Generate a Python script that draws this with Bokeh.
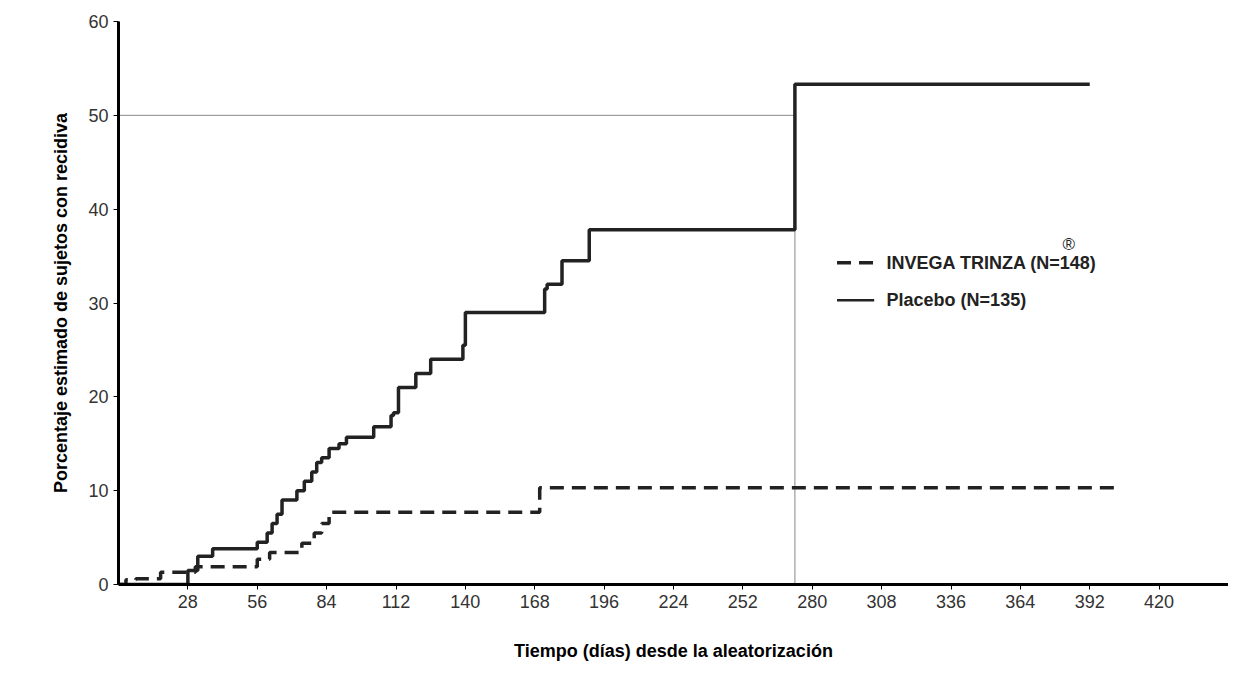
from bokeh.embed import file_html
from bokeh.resources import INLINE
from bokeh.models import FixedTicker, Range1d, Label
from bokeh.plotting import figure

# Kaplan-Meier step data (day, percent)
placebo_days = [0, 27, 28, 32, 38, 56, 60, 62, 64, 66, 68, 72, 75, 78, 80, 82, 85,
                89, 92, 103, 110, 111, 113, 120, 126, 139, 140, 172, 173, 179, 190, 273, 392]
placebo_pct = [0, 0, 1.5, 3.0, 3.8, 4.5, 5.5, 6.5, 7.5, 9.0, 9.0, 10.0, 11.0, 12.0, 13.0, 13.5, 14.5,
               15.0, 15.7, 16.8, 18.0, 18.3, 21.0, 22.5, 24.0, 25.5, 29.0, 31.5, 32.0, 34.5, 37.8, 53.3, 53.3]
invega_days = [0, 3, 7, 17, 27, 31, 56, 61, 74, 79, 82, 85, 87, 170, 402]
invega_pct = [0, 0.5, 0.6, 1.3, 1.3, 1.9, 2.7, 3.4, 4.4, 5.5, 6.5, 7.7, 7.7, 10.3, 10.3]

x_ticks = [28, 56, 84, 112, 140, 168, 196, 224, 252, 280, 308, 336, 364, 392, 420]
y_ticks = [0, 10, 20, 30, 40, 50, 60]
median_day = 273

FONT = "Liberation Sans"

p = figure(width=1228, height=663, output_backend="svg", toolbar_location=None, tools="",
           x_range=Range1d(0, 448), y_range=Range1d(0, 60),
           x_axis_label="Tiempo (días) desde la aleatorización",
           y_axis_label="Porcentaje estimado de sujetos con recidiva",
           min_border_left=118, min_border_right=0, min_border_top=21, min_border_bottom=79)
p.outline_line_color = None
p.grid.visible = False

for ax in (p.xaxis, p.yaxis):
    ax.axis_line_width = 3
    ax.axis_line_color = "black"
    ax.major_tick_line_color = "black"
    ax.minor_tick_line_color = None
    ax.major_tick_in = 0
    ax.major_tick_out = 5
    ax.major_label_text_font = FONT
    ax.major_label_text_font_size = "18px"
    ax.major_label_text_color = "#333333"
    ax.axis_label_text_font = FONT
    ax.axis_label_text_font_style = "bold"
    ax.axis_label_text_font_size = "18px"
    ax.axis_label_text_color = "black"
p.xaxis.ticker = FixedTicker(ticks=x_ticks)
p.yaxis.ticker = FixedTicker(ticks=y_ticks)
p.xaxis.axis_label_standoff = 30
p.yaxis.axis_label_standoff = 14

p.line([0, median_day], [50, 50], line_color="#888888", line_width=1)
p.line([median_day, median_day], [0, 53.3], line_color="#888888", line_width=1)

p.step(invega_days, invega_pct, mode="after", line_color="#222222", line_width=3.5, line_dash="14 8")
p.step(placebo_days, placebo_pct, mode="after", line_color="#222222", line_width=3.5)

# legend drawn by hand to match layout
p.line([290, 305], [34.3, 34.3], line_color="#222222", line_width=3.5, line_dash="14 8")
p.line([290, 305], [30.3, 30.3], line_color="#222222", line_width=2.5)
for txt, y in (("INVEGA TRINZA (N=148)", 34.3), (" Placebo (N=135)", 30.3)):
    p.add_layout(Label(x=310, y=y, text=txt, text_font=FONT, text_font_style="bold",
                       text_font_size="18px", text_baseline="middle", text_color="#222222"))
p.add_layout(Label(x=381, y=36.2, text="®", text_font=FONT, text_font_size="17px",
                   text_baseline="middle", text_color="#222222"))

open("out.html", "w").write(file_html(p, INLINE))
